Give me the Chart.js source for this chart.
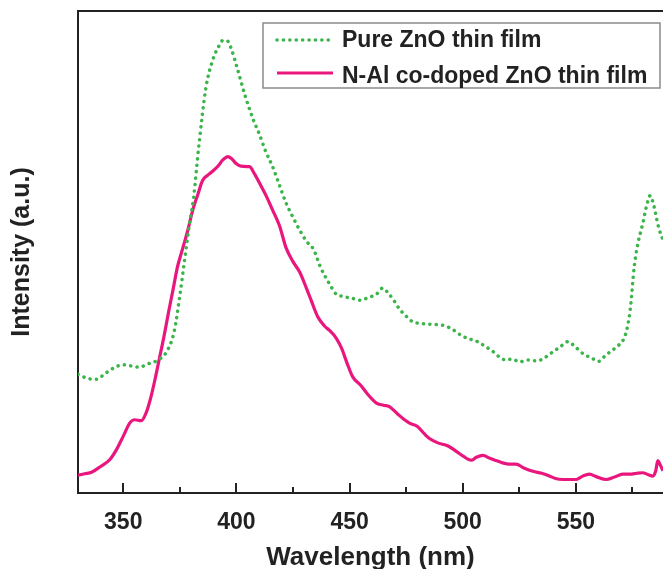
<!DOCTYPE html>
<html>
<head>
<meta charset="utf-8">
<script src="https://cdn.jsdelivr.net/npm/chart.js@4"></script>
<style>
  html, body { margin: 0; padding: 0; background: #fff; overflow: hidden; }
  canvas { display: block; }
</style>
</head>
<body>
<canvas id="pl" width="663" height="569"></canvas>
<script>
// wavelength (nm) / intensity (a.u., 0 = axis, 100 = top of frame)
const pureNm = [330, 334, 338, 342, 346, 350, 353, 357, 361, 365, 369, 372.5, 375, 377, 379, 381, 383.5, 386.5, 389.5, 392, 394, 396, 398, 400, 404, 407.5, 410, 413, 416, 419, 422, 425, 428, 431, 434, 437.5, 441, 444, 447, 451, 455, 458, 462, 464.6, 467, 469.5, 472, 475, 478, 481, 486, 492, 496, 500, 504, 507, 510, 513, 516, 519, 522, 525, 529, 533, 536, 539, 543, 546.5, 550, 553.5, 557, 560, 563, 566, 569, 572, 574, 575.8, 577.3, 579.5, 581.5, 582.8, 584.5, 586.5, 588.5];
const pureVals = [24.6, 23.8, 23.6, 24.8, 26.0, 26.6, 26.4, 26.1, 26.8, 27.5, 29.2, 33.5, 41, 48, 55, 61, 72.5, 84, 89.8, 92.5, 93.9, 93.8, 91.8, 88.7, 82.2, 77.4, 74.6, 70.8, 67.7, 63.9, 60.1, 57.2, 54.5, 52.2, 50.6, 46.5, 43.5, 41.3, 40.8, 40.4, 40.0, 40.5, 41.3, 42.5, 41.5, 40.0, 38.2, 36.7, 35.5, 35.2, 35.0, 34.7, 33.8, 32.5, 31.8, 31.3, 30.4, 29.5, 28.3, 27.6, 27.8, 27.2, 27.6, 27.4, 28.0, 29.0, 30.3, 31.4, 30.2, 28.8, 28.0, 27.3, 28.5, 29.6, 30.7, 33, 38, 47, 51.5, 55.8, 60, 61.7, 59.5, 55.2, 52.5];

const dopedNm = [330, 333, 336, 340, 344, 347, 350, 353, 355, 358, 360, 362, 364, 366, 368, 370, 372, 374, 376.3, 378.5, 380.7, 383, 385, 387.5, 389.6, 392, 394, 396.2, 398, 400, 402, 405.8, 408, 410.2, 413, 416, 419, 422, 425, 428, 431, 433, 436, 439, 441, 444, 446.5, 449, 451.4, 455, 458, 461.7, 465, 467.6, 471, 474, 476.5, 480, 483, 485.3, 489, 492, 494.1, 497, 500, 503.8, 506, 508.9, 512, 515, 518, 520.6, 523.5, 527, 531, 534.9, 538, 541, 544.2, 547, 550.1, 553, 556, 559, 563.4, 567, 570.7, 574, 577, 579.5, 582, 584, 585.3, 586.2, 587.3, 588.5];
const dopedVals = [3.7, 4.0, 4.3, 5.5, 6.9, 9.0, 11.8, 14.6, 15.2, 15.0, 16.5, 19.5, 23.5, 28, 32.5, 37.5, 42.2, 47, 50.8, 54.5, 58.7, 62, 64.8, 66.0, 66.8, 67.9, 69.1, 69.8, 69.3, 68.3, 67.8, 67.7, 66.2, 64.3, 61.8, 58.7, 55.5, 50.8, 48.0, 45.8, 42.4, 40, 36.5, 34.6, 33.8, 32.2, 30.0, 26.8, 24.1, 22.3, 20.5, 18.7, 18.2, 17.9, 16.5, 15.3, 14.5, 13.8, 12.3, 11.3, 10.4, 10.0, 9.6, 8.7, 7.7, 6.8, 7.4, 7.8, 7.2, 6.7, 6.2, 6.0, 6.0, 5.2, 4.5, 4.1, 3.6, 3.0, 2.8, 2.8, 2.8, 3.5, 3.9, 3.4, 2.8, 3.3, 3.9, 3.9, 4.1, 4.2, 3.8, 3.5, 4.6, 6.7, 5.8, 4.6];

const xTicks = [350, 400, 450, 500, 550];
const xMinorTicks = [375, 425, 475, 525, 575];
const seriesNames = ['Pure ZnO thin film', 'N-Al co-doped ZnO thin film'];

const INK = '#222';
const GREEN = '#3bb54a';
const PINK = '#e9177d';
const FONT = '"Liberation Sans", Arial, sans-serif';

const toPts = (xs, ys) => xs.map((x, i) => ({x: x, y: ys[i]}));

// inward tick marks, top frame line and boxed legend
const framePlugin = {
    id: 'frame',
    afterDraw(chart) {
        const {ctx, chartArea: a, scales} = chart;
        ctx.save();
        ctx.strokeStyle = INK;
        ctx.lineWidth = 2;
        ctx.beginPath();
        ctx.moveTo(a.left - 1, a.top);
        ctx.lineTo(a.right, a.top);
        ctx.stroke();

        const tick = (v, len) => {
            const px = Math.round(scales.x.getPixelForValue(v));
            ctx.beginPath();
            ctx.moveTo(px, a.bottom);
            ctx.lineTo(px, a.bottom - len);
            ctx.stroke();
        };
        xTicks.forEach(v => tick(v, 10));
        xMinorTicks.forEach(v => tick(v, 6));

        // legend
        ctx.lineWidth = 1.5;
        ctx.strokeStyle = '#8a8a8a';
        ctx.fillStyle = '#fff';
        ctx.fillRect(263, 23, 397, 65);
        ctx.strokeRect(263, 23, 397, 65);
        const rows = [{y: 40, ty: 41}, {y: 73, ty: 77}];
        chart.data.datasets.forEach((ds, i) => {
            ctx.save();
            ctx.strokeStyle = ds.borderColor;
            ctx.lineWidth = ds.borderWidth;
            ctx.lineCap = ds.borderCapStyle || 'butt';
            ctx.setLineDash(ds.borderDash || []);
            ctx.beginPath();
            ctx.moveTo(277, rows[i].y);
            ctx.lineTo(333, rows[i].y);
            ctx.stroke();
            ctx.restore();
            ctx.fillStyle = INK;
            ctx.font = 'bold 23px ' + FONT;
            ctx.textBaseline = 'middle';
            ctx.textAlign = 'left';
            ctx.fillText(ds.label, 342, rows[i].ty);
        });
        ctx.restore();
    }
};

new Chart(document.getElementById('pl'), {
    type: 'line',
    data: {
        datasets: [{
            label: seriesNames[0],
            data: toPts(pureNm, pureVals),
            borderColor: GREEN,
            borderWidth: 3.5,
            borderDash: [0.1, 6.3],
            borderCapStyle: 'round',
            pointRadius: 0,
            cubicInterpolationMode: 'monotone',
            fill: false
        }, {
            label: seriesNames[1],
            data: toPts(dopedNm, dopedVals),
            borderColor: PINK,
            borderWidth: 3.2,
            pointRadius: 0,
            cubicInterpolationMode: 'monotone',
            fill: false
        }]
    },
    options: {
        responsive: false,
        animation: false,
        layout: {padding: {top: 11, right: 0, bottom: 0, left: 0}},
        plugins: {legend: {display: false}, tooltip: {enabled: false}},
        scales: {
            x: {
                type: 'linear',
                min: 330,
                max: 588.5,
                grid: {display: false},
                border: {display: true, color: INK, width: 2},
                afterBuildTicks: s => { s.ticks = xTicks.map(v => ({value: v})); },
                afterFit: s => { s.height = 76; },
                ticks: {
                    color: INK,
                    padding: 8,
                    maxRotation: 0,
                    font: {family: FONT, size: 23, weight: 'bold'}
                },
                title: {
                    display: true,
                    text: 'Wavelength (nm)',
                    color: INK,
                    padding: {top: 0, bottom: -4},
                    font: {family: FONT, size: 26, weight: 'bold'}
                }
            },
            y: {
                min: 0,
                max: 100,
                grid: {display: false},
                border: {display: true, color: INK, width: 2},
                ticks: {display: false},
                afterFit: s => { s.width = 78; },
                title: {
                    display: true,
                    text: 'Intensity (a.u.)',
                    color: INK,
                    padding: {top: 7, bottom: 0},
                    font: {family: FONT, size: 25, weight: 'bold'}
                }
            }
        }
    },
    plugins: [framePlugin]
});
</script>
</body>
</html>
